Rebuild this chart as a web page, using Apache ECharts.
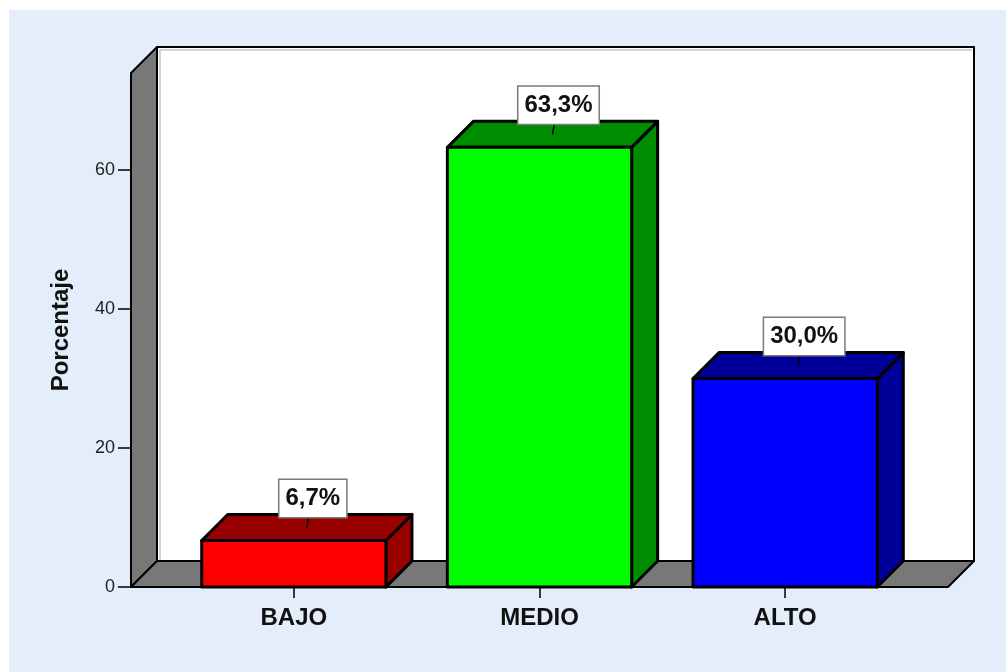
<!DOCTYPE html>
<html>
<head>
<meta charset="utf-8">
<script src="https://cdn.jsdelivr.net/npm/echarts@6/dist/echarts.min.js"></script>
<style>
  html, body { margin: 0; padding: 0; background: #fff; }
  #chart { width: 1006px; height: 672px; }
</style>
</head>
<body>
<div id="chart"></div>
<script>
const categories = ["BAJO", "MEDIO", "ALTO"];
const percentages = [6.7, 63.3, 30.0];
const valueLabels = ["6,7%", "63,3%", "30,0%"];
const frontColors = ["#ff0000", "#00ff00", "#0000ff"];
const shadeColors = ["#990000", "#008c00", "#000099"];
const yTicks = [0, 20, 40, 60];
const yMax = 74;

const DEPTH = 26;     // 3d offset of walls and bars, px
const WALL_PAD = 40;  // walls stick out past the first / last band
const FONT = "'Liberation Sans', Arial, sans-serif";

const chart = echarts.init(document.getElementById("chart"));

// gray side wall, gray floor, white back wall
function renderWalls(params, api) {
  const cs = params.coordSys;
  const left = cs.x - WALL_PAD;
  const right = cs.x + cs.width + WALL_PAD;
  const bottom = api.coord([0, 0])[1];
  const top = api.coord([0, yMax])[1];
  const d = DEPTH;
  const edge = { stroke: "#000", lineWidth: 2, lineJoin: "round" };
  return {
    type: "group",
    children: [
      {
        type: "rect",
        shape: { x: left + d, y: top - d, width: right - left, height: bottom - top },
        style: Object.assign({ fill: "#fff" }, edge),
      },
      // faint shading just inside the back wall
      {
        type: "polyline",
        shape: { points: [[left + d + 3, bottom - d], [left + d + 3, top - d + 3], [right + d - 2, top - d + 3]] },
        style: { stroke: "#c8c8c8", lineWidth: 1.5, fill: null },
      },
      {
        type: "polygon",
        shape: { points: [[left, bottom], [left, top], [left + d, top - d], [left + d, bottom - d]] },
        style: Object.assign({ fill: "#787878" }, edge),
      },
      {
        type: "polygon",
        shape: { points: [[left, bottom], [left + d, bottom - d], [right + d, bottom - d], [right, bottom]] },
        style: Object.assign({ fill: "#787878" }, edge),
      },
    ],
  };
}

function renderBar(params, api) {
  const idx = params.dataIndex;
  const topPt = api.coord([api.value(0), api.value(1)]);
  const basePt = api.coord([api.value(0), 0]);
  const w = api.size([1, 0])[0] * 0.75;
  const cx = topPt[0];
  const x0 = cx - w / 2, x1 = cx + w / 2;
  const y0 = topPt[1], y1 = basePt[1];
  const d = DEPTH;
  const edge = { stroke: "#000", lineWidth: 3, lineJoin: "round" };
  const boxCy = y0 - 42;
  return {
    type: "group",
    children: [
      {
        type: "polygon",
        shape: { points: [[x1, y1], [x1, y0], [x1 + d, y0 - d], [x1 + d, y1 - d]] },
        style: Object.assign({ fill: shadeColors[idx] }, edge),
      },
      {
        type: "polygon",
        shape: { points: [[x0, y0], [x0 + d, y0 - d], [x1 + d, y0 - d], [x1, y0]] },
        style: Object.assign({ fill: shadeColors[idx] }, edge),
      },
      {
        type: "rect",
        shape: { x: x0, y: y0, width: w, height: y1 - y0 },
        style: Object.assign({ fill: frontColors[idx] }, edge),
      },
      {
        type: "line",
        shape: { x1: cx + d / 2, y1: y0 - d / 2, x2: cx + 18, y2: boxCy },
        style: { stroke: "#000", lineWidth: 1.5 },
      },
      {
        type: "text",
        x: cx + 19,
        y: boxCy,
        style: {
          text: valueLabels[idx],
          align: "center",
          verticalAlign: "middle",
          fontSize: 24,
          fontWeight: "bold",
          fontFamily: FONT,
          fill: "#111",
          backgroundColor: "#fff",
          borderColor: "#7a7a7a",
          borderWidth: 1.5,
          padding: [7, 6, 6, 6],
        },
      },
    ],
  };
}

const option = {
  backgroundColor: "#fff",
  animation: false,
  textStyle: { fontFamily: FONT },
  graphic: [
    {
      type: "rect",
      left: 9,
      top: 10,
      z: -10,
      shape: { width: 997, height: 662 },
      style: { fill: "#e3eefa" },
    },
  ],
  grid: { left: 171, right: 98, top: 73, bottom: 85 },
  xAxis: {
    type: "category",
    data: categories,
    axisLine: { show: true, lineStyle: { color: "#000", width: 2 } },
    axisTick: { show: true, alignWithLabel: true, length: 11, interval: 0, lineStyle: { color: "#000", width: 1.5 } },
    axisLabel: { fontSize: 24, fontWeight: "bold", color: "#111", margin: 19, interval: 0 },
    splitLine: { show: false },
  },
  yAxis: {
    type: "value",
    min: 0,
    max: yMax,
    offset: WALL_PAD,
    name: "Porcentaje",
    nameLocation: "middle",
    nameRotate: 90,
    nameGap: 58,
    nameTextStyle: { fontSize: 24, fontWeight: "bold", color: "#111" },
    axisLine: { show: true, lineStyle: { color: "#000", width: 2 } },
    axisTick: { show: true, length: 13, customValues: yTicks, lineStyle: { color: "#000", width: 1.5 } },
    axisLabel: { customValues: yTicks, fontSize: 18, color: "#222", margin: 16 },
    splitLine: { show: false },
  },
  series: [
    {
      type: "custom",
      z: 1,
      silent: true,
      renderItem: renderWalls,
      data: [[0, 0]],
    },
    {
      type: "custom",
      z: 3,
      renderItem: renderBar,
      data: categories.map((c, i) => [c, percentages[i]]),
    },
  ],
};

chart.setOption(option);
</script>
</body>
</html>
